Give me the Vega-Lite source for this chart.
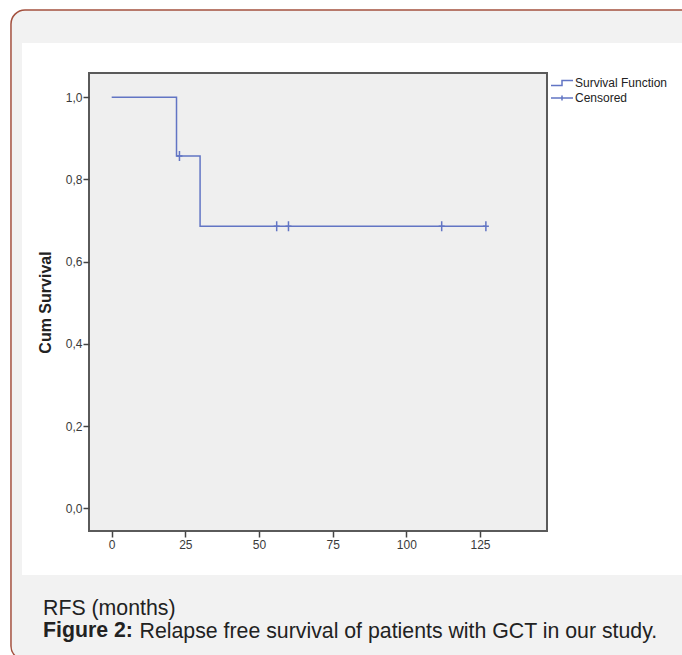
{
  "$schema": "https://vega.github.io/schema/vega-lite/v6.json",
  "width": 660,
  "height": 532,
  "autosize": {"type": "none"},
  "padding": {"left": 22, "top": 43, "right": 0, "bottom": 80},
  "background": "#ffffff",
  "config": {
    "view": {"stroke": null, "fill": null},
    "font": "Liberation Sans"
  },
  "datasets": {
    "survival": [
      {"time": 0, "survival": 1.0, "series": "Survival Function"},
      {"time": 22, "survival": 0.857, "series": "Survival Function"},
      {"time": 30, "survival": 0.686, "series": "Survival Function"},
      {"time": 127, "survival": 0.686, "series": "Survival Function"}
    ],
    "censored": [
      {"time": 23, "survival": 0.857, "series": "Censored"},
      {"time": 56, "survival": 0.686, "series": "Censored"},
      {"time": 60, "survival": 0.686, "series": "Censored"},
      {"time": 112, "survival": 0.686, "series": "Censored"},
      {"time": 127, "survival": 0.686, "series": "Censored"}
    ]
  },
  "title": {
    "text": "Figure 2:",
    "subtitle": "RFS (months)",
    "orient": "bottom",
    "anchor": "start",
    "frame": "group",
    "dx": 21,
    "offset": -41,
    "font": "Liberation Sans",
    "fontSize": 21.3,
    "fontWeight": "bold",
    "color": "#222222",
    "subtitleFont": "Liberation Sans",
    "subtitleFontSize": 21.3,
    "subtitleFontWeight": "normal",
    "subtitleColor": "#222222",
    "subtitlePadding": -43
  },
  "layer": [
    {
      "data": {"values": [{}]},
      "mark": {"type": "rect", "fill": "#f2f2f2", "stroke": "#a4513f", "strokeWidth": 1.5, "cornerRadius": 14},
      "encoding": {
        "x": {"datum": -34.18, "type": "quantitative"},
        "x2": {"datum": 199.7},
        "y": {"datum": 1.2124, "type": "quantitative"},
        "y2": {"datum": -0.369}
      }
    },
    {
      "data": {"values": [{}]},
      "mark": {"type": "rect", "fill": "#ffffff"},
      "encoding": {
        "x": {"datum": -30.44, "type": "quantitative"},
        "x2": {"datum": 193.56},
        "y": {"datum": 1.1321, "type": "quantitative"},
        "y2": {"datum": -0.1623}
      }
    },
    {
      "data": {"values": [{}]},
      "mark": {"type": "rect", "fill": "#efefef", "stroke": "#5a5a5a", "strokeWidth": 2},
      "encoding": {
        "x": {"datum": -7.7, "type": "quantitative"},
        "x2": {"datum": 147.74},
        "y": {"datum": 1.0591, "type": "quantitative"},
        "y2": {"datum": -0.0552}
      }
    },
    {
      "data": {"name": "survival"},
      "mark": {"type": "line", "interpolate": "step-after", "strokeWidth": 1.5},
      "encoding": {
        "x": {
          "field": "time",
          "type": "quantitative",
          "scale": {"domain": [-30.44, 193.56], "nice": false, "zero": false},
          "axis": {
            "values": [0, 25, 50, 75, 100, 125],
            "offset": -44,
            "domain": false,
            "grid": false,
            "tickSize": 6,
            "tickWidth": 1.5,
            "tickColor": "#444444",
            "labelFontSize": 12,
            "labelColor": "#3a3a3a",
            "labelPadding": 2,
            "labelFlush": false,
            "zindex": 1,
            "title": "Relapse free survival of patients with GCT in our study.",
            "titleX": 117,
            "titleY": 106,
            "titleAlign": "left",
            "titleBaseline": "alphabetic",
            "titleFontSize": 21.3,
            "titleFontWeight": "normal",
            "titleColor": "#222222"
          }
        },
        "y": {
          "field": "survival",
          "type": "quantitative",
          "scale": {"domain": [-0.1623, 1.1321], "nice": false, "zero": false},
          "axis": {
            "values": [0, 0.2, 0.4, 0.6, 0.8, 1.0],
            "labelExpr": "replace(format(datum.value, '.1f'), '.', ',')",
            "offset": -67,
            "domain": false,
            "grid": false,
            "tickSize": 6,
            "tickWidth": 1.5,
            "tickColor": "#444444",
            "labelFontSize": 12,
            "labelColor": "#3a3a3a",
            "labelPadding": 1,
            "labelFlush": false,
            "zindex": 1,
            "title": "Cum Survival",
            "titleX": -44,
            "titleY": 259,
            "titleAngle": -90,
            "titleAlign": "center",
            "titleBaseline": "middle",
            "titleFontSize": 16,
            "titleFontWeight": "bold",
            "titleColor": "#222222"
          }
        },
        "color": {
          "field": "series",
          "type": "nominal",
          "scale": {"domain": ["Survival Function", "Censored"], "range": ["#6275c4", "#6275c4"]},
          "legend": {
            "orient": "none",
            "legendX": 534,
            "legendY": 34,
            "title": null,
            "padding": 0,
            "labelFontSize": 12,
            "labelColor": "#222222",
            "labelOffset": 7,
            "rowPadding": 3,
            "symbolSize": 100,
            "symbolStrokeWidth": 1.5,
            "encode": {
              "symbols": {
                "update": {
                  "shape": {"signal": "datum.label == 'Censored' ? 'M-2.2,0H2.2M0,-0.5V0.5' : 'M-2.2,0.5H0V-0.5H2.2'"},
                  "fill": {"value": "transparent"},
                  "stroke": {"value": "#6275c4"},
                  "strokeWidth": {"value": 1.5}
                }
              }
            }
          }
        }
      }
    },
    {
      "data": {"name": "censored"},
      "mark": {"type": "point", "shape": "M0,-1V1M-0.6,0H0.6", "filled": false, "size": 100, "strokeWidth": 1.5, "opacity": 1},
      "encoding": {
        "x": {"field": "time", "type": "quantitative"},
        "y": {"field": "survival", "type": "quantitative"},
        "color": {"field": "series", "type": "nominal"}
      }
    }
  ]
}
